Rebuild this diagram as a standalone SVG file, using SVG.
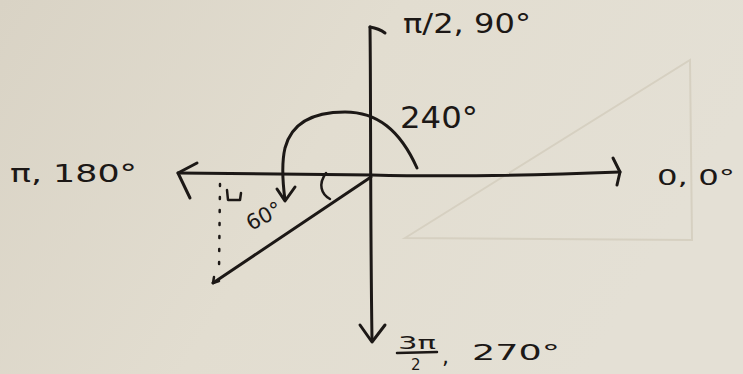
<svg xmlns="http://www.w3.org/2000/svg" width="743" height="374" viewBox="0 0 743 374">
<defs>
<linearGradient id="paper" x1="0" y1="0" x2="1" y2="0.3">
<stop offset="0" stop-color="#d9d3c5"/>
<stop offset="0.5" stop-color="#e2ddd0"/>
<stop offset="1" stop-color="#e4e0d5"/>
</linearGradient>
<style>
.ink{fill:none;stroke:#1c1816;stroke-width:3;stroke-linecap:round;stroke-linejoin:round}
.thin{fill:none;stroke:#1c1816;stroke-width:2.5;stroke-linecap:round;stroke-linejoin:round}
.faint{fill:none;stroke:#d6d0c1;stroke-width:2;stroke-linecap:round}
.lbl{font-family:"DejaVu Sans","Liberation Sans",sans-serif;fill:#1c1816}
</style>
</defs>
<rect width="743" height="374" fill="url(#paper)"/>
<g id="show-through">
<path class="faint" d="M405,238 L690,60 L692,240 Z"/>
</g>
<g id="axes">
<path class="ink" d="M370,27 C371,100 370,200 372,340"/>
<path class="ink" d="M370,27 C376,28 381,30 385,33"/>
<path class="ink" d="M360,325 L372,342 L385,325"/>
<path class="ink" d="M178,173 C260,174 330,174 372,175 C450,177 520,176 620,172"/>
<path class="ink" d="M197,163 L178,173 L190,198"/>
<path class="ink" d="M613,158 L620,172 L617,185"/>
</g>
<g id="connectors">
<path class="ink" d="M371,177 L213,283"/>
<path class="thin" d="M213,283 L214,277 M213,283 L219,281"/>
<path class="thin" d="M220,184 L219,272" stroke-dasharray="2 11"/>
<path class="thin" d="M227,190 L228,200 L240,200 L241,193"/>
<path class="thin" d="M326,173 C318,184 321,194 330,199"/>
<path class="ink" d="M417,168 C400,130 377,112 345,112 C310,112 291,125 285,148 C281,165 283,185 285,200"/>
<path class="ink" d="M277,189 L285,201 L295,187"/>
</g>
<g id="label-90">
<text class="lbl" x="403" y="33" font-size="26" textLength="128" lengthAdjust="spacingAndGlyphs">π/2, 90°</text>
</g>
<g id="label-240">
<text class="lbl" x="400" y="128" font-size="30" textLength="78" lengthAdjust="spacingAndGlyphs">240°</text>
</g>
<g id="label-0">
<text class="lbl" x="657" y="185" font-size="22" textLength="78" lengthAdjust="spacingAndGlyphs">0, 0°</text>
</g>
<g id="label-180">
<text class="lbl" x="10" y="182" font-size="24" textLength="127" lengthAdjust="spacingAndGlyphs">π, 180°</text>
</g>
<g id="label-270">
<text class="lbl" x="398" y="349" font-size="18" textLength="38" lengthAdjust="spacingAndGlyphs">3π</text>
<path class="thin" d="M397,353 L437,352"/>
<text class="lbl" x="411" y="370" font-size="15">2</text>
<text class="lbl" x="442" y="364" font-size="22">,</text>
<text class="lbl" x="472" y="360" font-size="22" textLength="88" lengthAdjust="spacingAndGlyphs">270°</text>
</g>
<g id="label-60">
<text class="lbl" x="251" y="231" font-size="21" transform="rotate(-28 251 231)">60°</text>
</g>
</svg>
